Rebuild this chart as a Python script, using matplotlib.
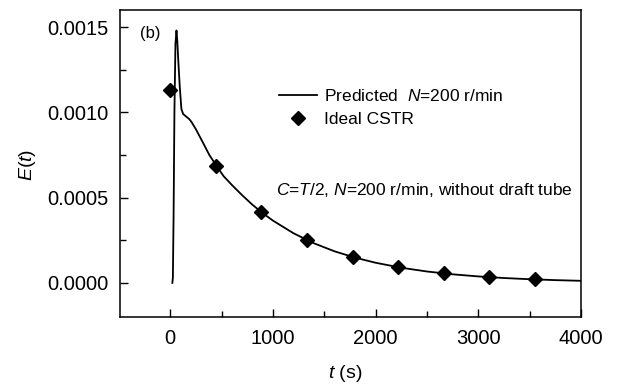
import numpy as np
from matplotlib import pyplot as plt

plt.rcParams['font.family'] = ['Liberation Sans', 'DejaVu Sans']
plt.rcParams['mathtext.fontset'] = 'custom'
plt.rcParams['mathtext.rm'] = 'Liberation Sans'
plt.rcParams['mathtext.it'] = 'Liberation Sans:italic'

# predicted RTD curve
t_pred = [20, 25, 32, 40, 50, 60, 68, 78, 92, 108, 125, 155, 185, 207, 250, 320, 380,
          450, 520, 600, 700, 800, 900, 1000, 1200, 1400, 1600, 1800, 2000, 2250,
          2500, 2750, 3000, 3250, 3500, 3750, 4000]
e_pred = [0.0, 0.00003, 0.0004, 0.001, 0.0014, 0.00148, 0.00142, 0.0013, 0.00115,
          0.00102, 0.00099, 0.000975, 0.00096, 0.000943, 0.0009, 0.00082, 0.00075,
          0.000686, 0.000625, 0.000574, 0.000514, 0.000458, 0.000409, 0.000365,
          0.000291, 0.000232, 0.000185, 0.000148, 0.000118, 0.0000888, 0.0000668,
          0.0000503, 0.0000379, 0.0000285, 0.0000215, 0.0000162, 0.0000122]

# ideal CSTR points
t_cstr = [0, 444, 888, 1332, 1776, 2220, 2664, 3108, 3552]
e_cstr = [0.00113, 0.000685, 0.000415, 0.000252, 0.000153, 0.000093, 0.000057,
          0.000034, 0.000021]

fig = plt.figure(figsize=(6.18, 3.90), dpi=100)
ax = fig.add_axes([120/618, 1 - 317/390, 461/618, 307/390])

ax.plot(t_pred, e_pred, color='black', lw=1.3, label=r'Predicted  $\it{N}$=200 r/min')
ax.plot(t_cstr, e_cstr, ls='none', marker='D', color='black', ms=7.5,
        label='Ideal CSTR')

ax.set_xlim(-490, 4000)
ax.set_ylim(-0.0002, 0.0016)
ax.set_xticks([0, 1000, 2000, 3000, 4000])
ax.set_xticks([500, 1500, 2500, 3500], minor=True)
ax.set_yticks([0.0, 0.0005, 0.0010, 0.0015])
ax.set_yticklabels(['0.0000', '0.0005', '0.0010', '0.0015'])
ax.set_yticks([0.00025, 0.00075, 0.00125], minor=True)
ax.tick_params(which='both', direction='in', top=False, right=False, labelsize=14.5,
               width=1, pad=8.5)
ax.tick_params(which='major', length=6)
ax.tick_params(which='minor', length=4)
for s in ax.spines.values():
    s.set_linewidth(1.1)

ax.set_xlabel(r'$\it{t}$ (s)', fontsize=14)
ax.set_ylabel(r'$\it{E}$($\it{t}$)', fontsize=14)
ax.xaxis.set_label_coords(0.488, -0.15)
ax.yaxis.set_label_coords(-0.177, 0.495)

ax.text(-300, 0.00146, '(b)', fontsize=12, va='center')
ax.text(1030, 0.000545, r'$\it{C}$=$\it{T}$/2, $\it{N}$=200 r/min, without draft tube',
        fontsize=12.5, va='center')

ax.legend(loc='upper left', bbox_to_anchor=(0.325, 0.775), frameon=False, fontsize=12.5,
          handlelength=2.2, handletextpad=0.4, labelspacing=0.45, borderpad=0)

fig.savefig('out.png', dpi=100)
